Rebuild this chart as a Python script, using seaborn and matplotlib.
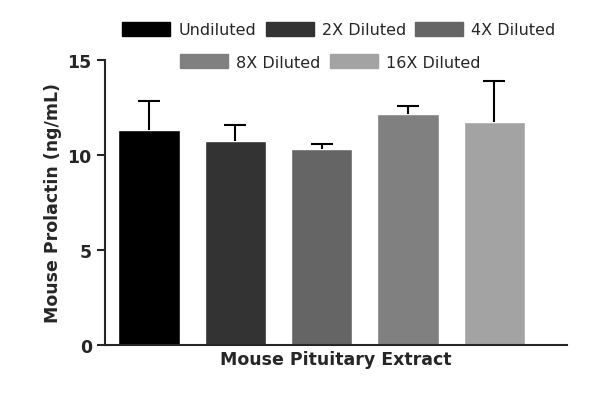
import matplotlib
matplotlib.use("Agg")
import matplotlib.pyplot as plt
import seaborn as sns
import pandas as pd
import numpy as np

groups = ["Undiluted", "2X Diluted", "4X Diluted", "8X Diluted", "16X Diluted"]
means = [11.3, 10.75, 10.3, 12.15, 11.75]
errs = [1.55, 0.85, 0.28, 0.43, 2.15]
colors = ["#000000", "#333333", "#656565", "#808080", "#a3a3a3"]

sns.set_style("ticks")
plt.rcParams['font.family'] = ['DejaVu Sans']
fig = plt.figure(figsize=(6, 4.06), dpi=100)
ax = fig.add_axes([0.175, 0.148, 0.77, 0.702])
df = pd.DataFrame({"g": groups, "v": means})
sns.barplot(data=df, x="g", y="v", hue="g", palette=colors, ax=ax, width=0.71, legend=False)
xs = np.arange(len(groups))
_, caps, _ = ax.errorbar(xs, means, yerr=[np.zeros(len(errs)), errs], fmt="none", ecolor="black",
                         elinewidth=1.5, capsize=8, capthick=1.5)
caps[0].set_visible(False)
ax.set_xlim(-0.51, 4.84)
ax.set_ylim(0, 15)
ax.set_yticks([0, 5, 10, 15])
ax.set_xticks([])
ax.set_xlabel("Mouse Pituitary Extract", fontsize=12.5, fontweight="bold")
ax.set_ylabel("Mouse Prolactin (ng/mL)", fontsize=12.5, fontweight="bold")
ax.tick_params(axis="y", labelsize=12.5, width=1.5, length=6)
for t in ax.get_yticklabels():
    t.set_fontweight("bold")
for s in ["left", "bottom"]:
    ax.spines[s].set_linewidth(1.5)
sns.despine(ax=ax)
from matplotlib.patches import Patch
handles = [Patch(color=c, label=g) for g, c in zip(groups, colors)]
kw = dict(loc="center", frameon=False, fontsize=11.5, handlelength=3, handleheight=1,
          columnspacing=0.6, handletextpad=0.5)
fig.legend(handles=handles[:3], bbox_to_anchor=(0.565, 0.925), ncol=3, **kw)
fig.legend(handles=handles[3:], bbox_to_anchor=(0.55, 0.845), ncol=2, **kw)
fig.savefig("out.png", dpi=100)
